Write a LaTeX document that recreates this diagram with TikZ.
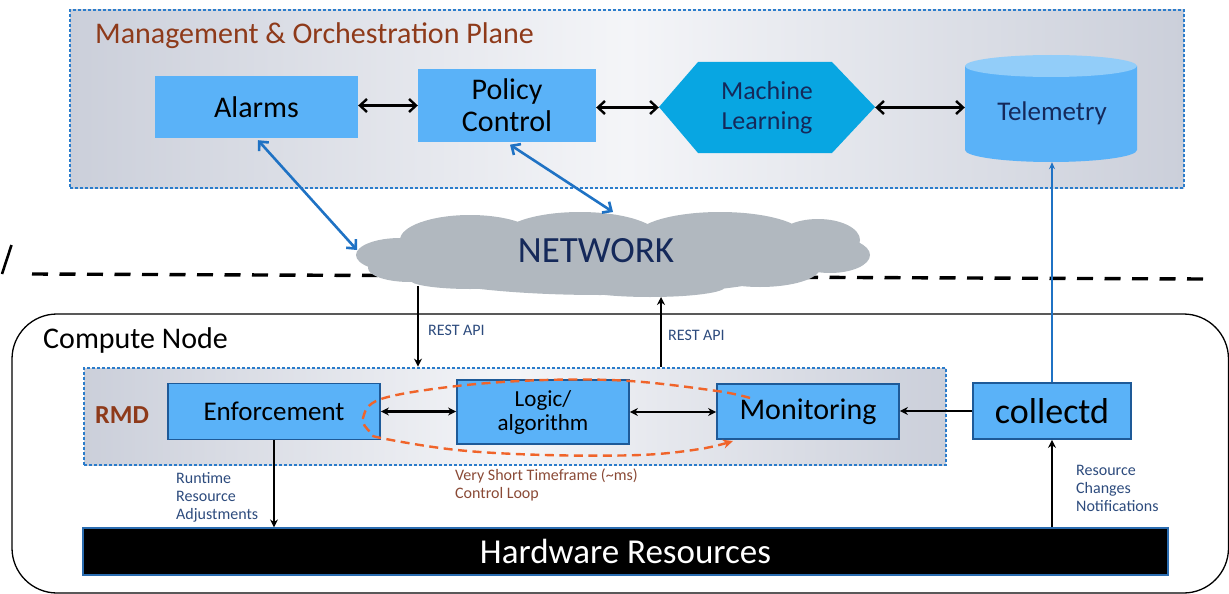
\documentclass[tikz,border=0pt]{standalone}
\usepackage{fontspec}
\setmainfont{Carlito}
\usetikzlibrary{arrows.meta,calc}

\definecolor{boxblue}{HTML}{5AB2F8}
\definecolor{hexblue}{HTML}{08A6E2}
\definecolor{topblue}{HTML}{92CDF9}
\definecolor{edgeblue}{HTML}{1E5A98}
\definecolor{dotblue}{HTML}{2A7CCB}
\definecolor{linkblue}{HTML}{1F72C4}
\definecolor{cloudgray}{HTML}{B1B8BF}
\definecolor{navy}{HTML}{15295A}
\definecolor{labelnavy}{HTML}{2D4B7D}
\definecolor{rust}{HTML}{8E3A1A}
\definecolor{loopbrown}{HTML}{8A4A36}
\definecolor{looporange}{HTML}{F0642A}
\definecolor{planeedge}{HTML}{CBCFDA}
\definecolor{planemid}{HTML}{F4F5F8}
\definecolor{hwedge}{HTML}{2A6CB0}

\tikzset{
  plane/.style={draw=dotblue, line width=2.8pt, dash pattern=on 2.6pt off 2.4pt,
    left color=planeedge, right color=planeedge, middle color=planemid, inner sep=0pt},
  block/.style={fill=boxblue, inner sep=0pt, align=center},
  rblock/.style={block, draw=edgeblue, line width=1.8pt},
  plain/.style={inner sep=0pt, align=center},
  bigtxt/.style={font=\fontsize{30}{32}\selectfont},
  smalltxt/.style={font=\fontsize{16}{18}\selectfont, inner sep=0pt, align=left},
  bi/.style={{Straight Barb[length=7pt,width=13pt]}-{Straight Barb[length=7pt,width=13pt]}, line width=2.4pt},
  lowbi/.style={{Stealth[length=8pt,width=8pt]}-{Stealth[length=8pt,width=8pt]}, line width=2.2pt},
  one/.style={-{Stealth[length=8pt,width=8pt]}, line width=2.2pt},
  link/.style={{Straight Barb[length=7pt,width=13pt]}-{Straight Barb[length=7pt,width=13pt]}, line width=2.6pt, draw=linkblue},
}

\begin{document}
\begin{tikzpicture}[x=1pt,y=-1pt]
\useasboundingbox (0,0) rectangle (1229,594);

% management and orchestration plane
\node[plane, minimum width=1114pt, minimum height=178pt] (mop) at (627,99) {};
\node[anchor=base west, inner sep=0pt, text=rust, bigtxt] (moptitle) at (95,44) {Management \& Orchestration Plane};

% compute node container
\node[draw=black, line width=1.3pt, rounded corners=45pt, minimum width=1216.5pt,
      minimum height=279pt, inner sep=0pt] (cn) at (620.25,453.5) {};
\node[anchor=base west, inner sep=0pt, bigtxt] (cntitle) at (43,348) {Compute Node};

% separator between the planes
\draw[line width=2.6pt] (2,274) -- (11.5,245);
\coordinate (sepL) at (32,274);
\coordinate (sepR) at (1203,279);
\draw[line width=3.4pt, dash pattern=on 16pt off 11.5pt] (sepL) -- (sepR);

% network cloud
\fill[cloudgray]
  (400,255) ellipse [x radius=44, y radius=17]
  (410,268) ellipse [x radius=42, y radius=14]
  (470,240) ellipse [x radius=70, y radius=25]
  (580,238) ellipse [x radius=80, y radius=26]
  (720,237) ellipse [x radius=85, y radius=25]
  (818,240) ellipse [x radius=42, y radius=21]
  (830,255) ellipse [x radius=40, y radius=18]
  (600,265) ellipse [x radius=200, y radius=30]
  (470,280) ellipse [x radius=60, y radius=9]
  (650,287) ellipse [x radius=75, y radius=10]
  (760,268) ellipse [x radius=60, y radius=19];
\node[plain, text=navy, font=\fontsize{37}{40}\selectfont] (net) at (596,251) {NETWORK};
\coordinate (netA) at (357,250);
\coordinate (netP) at (613,212);
\coordinate (restdown) at (418,286);
\coordinate (restup) at (661,297);

% management blocks
\node[block, bigtxt, minimum width=203pt, minimum height=62pt] (alarms) at (256.5,107) {Alarms};
\node[block, bigtxt, minimum width=178pt, minimum height=73pt] (policy) at (507,105.5) {Policy\\Control};

\fill[hexblue] (659,107) -- (698,62) -- (832,62) -- (875,107) -- (832,153) -- (698,153) -- cycle;
\node[plain, text=navy, font=\fontsize{26}{30}\selectfont, minimum width=216pt, minimum height=91pt] (ml) at (767,107.5) {Machine\\Learning};

\fill[boxblue] (965,66) -- (965,150) arc[start angle=180, end angle=0, x radius=86, y radius=12] -- (1137,66) -- cycle;
\fill[topblue] (1051,66) ellipse [x radius=86, y radius=11];
\node[plain, minimum width=172pt, minimum height=107pt] (tel) at (1051,108.5) {};
\node[plain, text=navy, font=\fontsize{27}{30}\selectfont] (tellbl) at (1052,113) {Telemetry};

\draw[bi] (alarms.east |- policy.west) -- (policy.west);
\draw[bi] (policy.east |- ml.west) -- (ml.west);
\draw[bi] (ml.east) -- (ml.east -| tel.west);

\draw[link] (alarms.south) ++(1.5,2) -- (netA);
\draw[link] (policy.south) ++(3,2.5) -- (netP);

% resource management daemon
\node[plane, minimum width=862pt, minimum height=97pt] (rmd) at (515,416.5) {};
\node[anchor=base west, inner sep=0pt, text=rust, font=\bfseries\fontsize{26}{30}\selectfont] (rmdlbl) at (95,423) {RMD};

\node[rblock, font=\fontsize{27}{30}\selectfont, minimum width=212pt, minimum height=56pt] (enf) at (274,411.5) {Enforcement};
\node[rblock, font=\fontsize{23}{24}\selectfont, minimum width=172pt, minimum height=64pt] (logic) at (543,412) {Logic/\\algorithm};
\node[rblock, bigtxt, minimum width=182pt, minimum height=55pt] (mon) at (808,411.5) {Monitoring};
\node[rblock, font=\fontsize{36}{40}\selectfont, minimum width=158pt, minimum height=56pt] (col) at (1052,411) {collectd};

\node[fill=black, draw=hwedge, line width=1.2pt, text=white, font=\fontsize{35}{40}\selectfont,
      minimum width=1085pt, minimum height=47pt, inner sep=0pt] (hw) at (625.5,551.5) {Hardware Resources};

\draw[lowbi] (enf.east) -- (logic.west |- enf.east);
\draw[lowbi] (logic.east) -- (mon.west |- logic.east);
\draw[one] (col.west) -- (col.west -| mon.east);

\draw[one] (restdown) -- (restdown |- rmd.north);
\draw[one] (restup |- rmd.north) -- (restup);
\node[anchor=base west, inner sep=0pt, text=labelnavy, font=\fontsize{16}{18}\selectfont] (rest1) at (428,335) {REST API};
\node[anchor=base west, inner sep=0pt, text=labelnavy, font=\fontsize{16}{18}\selectfont] (rest2) at (668,340) {REST API};

\draw[one] (enf.south) -- (enf.south |- hw.north);
\draw[one] (hw.north -| col.south) -- (col.south);
\draw[-{Stealth[length=7pt,width=6pt]}, line width=1.6pt, draw=linkblue] (col.north) -- (col.north |- tel.south);

\node[smalltxt, text=labelnavy, anchor=north west] (rt) at (176,472) {Runtime\\Resource\\Adjustments};
\node[smalltxt, text=labelnavy, anchor=north west] (rc) at (1076,465) {Resource\\Changes\\Notifications};
\node[smalltxt, text=loopbrown, anchor=north west] (vst) at (455,469) {Very Short Timeframe (\textasciitilde ms)\\Control Loop};

% short control loop
\draw[looporange, line width=2.4pt, dash pattern=on 9pt off 5.5pt, -{Stealth[length=10pt,width=9pt]}]
  plot[smooth, tension=0.6] coordinates {(750,398) (717,391) (630,381) (545,380) (457,386) (381,399) (363,418)
    (370,432) (381,438) (457,450) (545,455) (640,455) (700,449) (733,441)};
\end{tikzpicture}
\end{document}
